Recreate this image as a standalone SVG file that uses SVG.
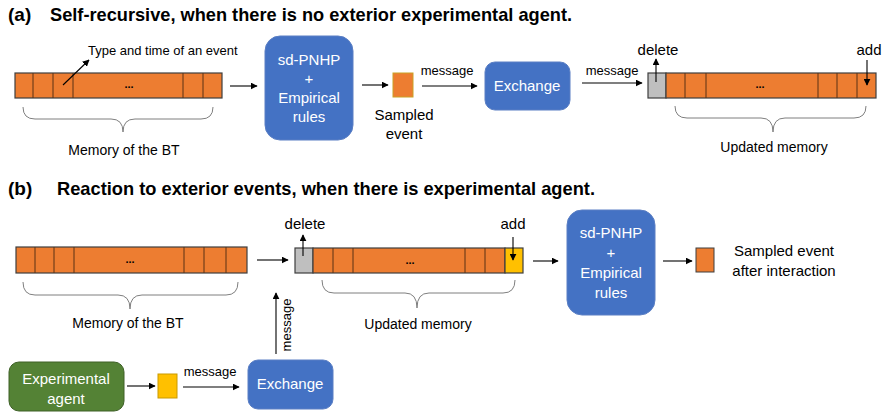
<svg xmlns="http://www.w3.org/2000/svg" width="884" height="415" viewBox="0 0 884 415">
<defs>
<marker id="ah" viewBox="0 0 10 10" refX="9" refY="5" markerWidth="7" markerHeight="7" orient="auto-start-reverse" markerUnits="userSpaceOnUse"><path d="M0,0 L10,5 L0,10 z" fill="#000"/></marker>
<style>
text{font-family:"Liberation Sans",Arial,sans-serif;fill:#000}
.t{font-size:13px}
.m{font-size:14px}
.l{font-size:15px}
.title{font-size:19px;font-weight:bold}
.w{fill:#fff;font-size:15px;text-anchor:middle}
.c{text-anchor:middle}
.dots{font-size:11px;font-weight:bold;text-anchor:middle}
.bar{fill:#ED7D31;stroke:#3F3F3F;stroke-width:1.2}
.div{stroke:#5a3214;stroke-width:1}
.gray{fill:#BFBFBF;stroke:#3F3F3F;stroke-width:1.2}
.yel{fill:#FFC000;stroke:#3F3F3F;stroke-width:1.2}
.blue{fill:#4472C4;stroke:#5B7FC4;stroke-width:1}
.green{fill:#548235;stroke:#3E6127;stroke-width:1}
.line{stroke:#000;stroke-width:1.1;fill:none}
.brace{stroke:#7F7F7F;stroke-width:1;fill:none}
</style>
</defs>

<g id="title-a">
<text class="title" x="8" y="21">(a)</text>
<text class="title" x="50" y="21" textLength="522" lengthAdjust="spacingAndGlyphs">Self-recursive, when there is no exterior experimental agent.</text>
</g>
<g id="title-b">
<text class="title" x="8" y="195">(b)</text>
<text class="title" x="57" y="195" textLength="538" lengthAdjust="spacingAndGlyphs">Reaction to exterior events, when there is experimental agent.</text>
</g>

<!-- (a) -->
<g id="a-memory">
<rect class="bar" x="15" y="73" width="207" height="25"/>
<path class="div" d="M33,73V98M53,73V98M73,73V98M183,73V98M203,73V98"/>
<text class="dots" x="129" y="88">...</text>
<path class="brace" d="M23,107 Q23,119 35,119 L111,119 Q123,119 123,132 Q123,119 135,119 L201,119 Q213,119 213,107"/>
<text class="m c" x="124" y="155">Memory of the BT</text>
<text class="t" x="88" y="55">Type and time of an event</text>
</g>
<g id="a-model">
<rect class="blue" x="265" y="36" width="88" height="104" rx="15"/>
<text class="w" x="309" y="65">sd-PNHP</text>
<text class="w" x="309" y="84">+</text>
<text class="w" x="309" y="103">Empirical</text>
<text class="w" x="309" y="122">rules</text>
</g>
<g id="a-sampled">
<rect x="393" y="73" width="20" height="24" fill="#ED7D31" stroke="#C9A227" stroke-width="1"/>
<text class="l c" x="404" y="120">Sampled</text>
<text class="l c" x="404" y="139">event</text>
</g>
<g id="a-exchange">
<rect class="blue" x="485" y="62" width="85" height="48" rx="10"/>
<text class="w" x="527" y="91">Exchange</text>
</g>
<g id="a-updated">
<rect class="gray" x="648" y="73" width="18" height="25"/>
<rect class="bar" x="666" y="73" width="210" height="25"/>
<path class="div" d="M685,73V98M706,73V98M818,73V98M837,73V98M857,73V98"/>
<text class="dots" x="760" y="88">...</text>
<path class="brace" d="M675,106 Q675,118 687,118 L761,118 Q773,118 773,132 Q773,118 785,118 L854,118 Q866,118 866,106"/>
<text class="m c" x="774" y="152">Updated memory</text>
<text class="l c" x="658" y="55">delete</text>
<text class="l c" x="869" y="55">add</text>
</g>

<!-- (b) -->
<g id="b-memory">
<rect class="bar" x="16" y="247" width="231" height="26"/>
<path class="div" d="M35,247V273M54,247V273M74,247V273M184,247V273M204,247V273M226,247V273"/>
<text class="dots" x="130" y="263">...</text>
<path class="brace" d="M23,282 Q23,295 35,295 L118,295 Q130,295 130,309 Q130,295 142,295 L226,295 Q238,295 238,282"/>
<text class="m c" x="128" y="328">Memory of the BT</text>
</g>
<g id="b-updated">
<rect class="gray" x="295" y="248" width="18" height="25"/>
<rect class="bar" x="313" y="248" width="192" height="25"/>
<rect class="yel" x="505" y="248" width="18" height="25"/>
<path class="div" d="M333,248V273M353,248V273M465,248V273M485,248V273"/>
<text class="dots" x="410" y="264">...</text>
<path class="brace" d="M322,280 Q322,293 334,293 L405,293 Q417,293 417,308 Q417,293 429,293 L503,293 Q515,293 515,280"/>
<text class="m c" x="418" y="329">Updated memory</text>
<text class="l c" x="305" y="229">delete</text>
<text class="l c" x="513" y="229">add</text>
</g>
<g id="b-model">
<rect class="blue" x="567" y="210" width="88" height="105" rx="15"/>
<text class="w" x="611" y="238">sd-PNHP</text>
<text class="w" x="611" y="258">+</text>
<text class="w" x="611" y="278">Empirical</text>
<text class="w" x="611" y="298">rules</text>
</g>
<g id="b-sampled">
<rect x="696" y="248" width="18" height="24" fill="#ED7D31" stroke="#3F3F3F" stroke-width="1"/>
<text class="l c" x="784" y="256">Sampled event</text>
<text class="l c" x="784" y="276">after interaction</text>
</g>
<g id="b-agent">
<rect class="green" x="9" y="362" width="115" height="49" rx="10"/>
<text class="w" x="66" y="384">Experimental</text>
<text class="w" x="66" y="404">agent</text>
</g>
<g id="b-event">
<rect x="158" y="374" width="19" height="24" fill="#FFC000" stroke="#C99A00" stroke-width="1"/>
</g>
<g id="b-exchange">
<rect class="blue" x="248" y="360" width="85" height="49" rx="10"/>
<text class="w" x="290" y="389">Exchange</text>
</g>

<g id="connectors">
<line class="line" x1="63" y1="85" x2="89" y2="60" marker-end="url(#ah)"/>
<line class="line" x1="230" y1="86" x2="257" y2="86" marker-end="url(#ah)"/>
<line class="line" x1="362" y1="85" x2="388" y2="85" marker-end="url(#ah)"/>
<line class="line" x1="422" y1="86" x2="477" y2="86" marker-end="url(#ah)"/>
<text class="t c" x="447" y="75">message</text>
<line class="line" x1="582" y1="83" x2="642" y2="83" marker-end="url(#ah)"/>
<text class="t c" x="612" y="75">message</text>
<line class="line" x1="656" y1="82" x2="656" y2="59" marker-end="url(#ah)"/>
<line class="line" x1="867" y1="60" x2="867" y2="85" marker-end="url(#ah)"/>

<line class="line" x1="257" y1="260" x2="288" y2="260" marker-end="url(#ah)"/>
<line class="line" x1="303" y1="256" x2="303" y2="235" marker-end="url(#ah)"/>
<line class="line" x1="513" y1="237" x2="513" y2="260" marker-end="url(#ah)"/>
<line class="line" x1="533" y1="261" x2="558" y2="261" marker-end="url(#ah)"/>
<line class="line" x1="663" y1="261" x2="692" y2="261" marker-end="url(#ah)"/>
<line class="line" x1="127" y1="386" x2="155" y2="386" marker-end="url(#ah)"/>
<line class="line" x1="183" y1="387" x2="239" y2="387" marker-end="url(#ah)"/>
<text class="t c" x="210" y="376">message</text>
<line class="line" x1="276" y1="354" x2="276" y2="293" marker-end="url(#ah)"/>
<text class="t c" x="0" y="0" transform="translate(291,325) rotate(-90)">message</text>
</g>
</svg>
